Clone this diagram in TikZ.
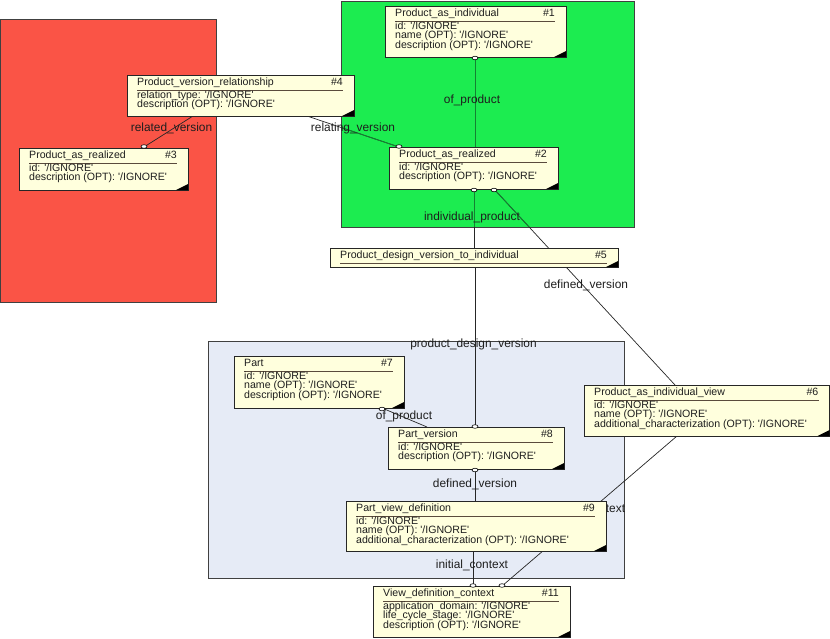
\documentclass[tikz,border=0pt]{standalone}
\usepackage{fontspec}
\setmainfont{Liberation Sans}
\usetikzlibrary{calc}
\definecolor{redreg}{RGB}{250,84,70}
\definecolor{greenreg}{RGB}{28,236,80}
\definecolor{bluereg}{RGB}{230,235,246}
\definecolor{boxfill}{RGB}{255,255,221}
\definecolor{rulecol}{RGB}{90,75,60}
\definecolor{txt}{RGB}{30,30,30}
\definecolor{dkgreen}{RGB}{20,130,50}
\newcommand\boxfont{\fontsize{10.6}{9.2}\selectfont}
\newcommand\lblfont{\fontsize{11.9}{12}\selectfont}
\newcommand\ig{\textquotesingle/IGNORE\textquotesingle}
\tikzset{
  region/.style={draw=black!75, line width=0.9pt},
  ebox/.style={rectangle, draw=black!85, fill=boxfill, line width=0.9pt, inner sep=0pt, outer sep=0pt},
  etext/.style={font=\boxfont, text=txt, inner sep=0pt},
  conn/.style={draw=black!85, line width=0.7pt},
  lbl/.style={font=\lblfont, text=txt, inner sep=0pt, anchor=base},
  anch/.style={minimum width=#1, inner sep=0pt, outer sep=0pt},
}
\newcommand\ent[8]{%
  \node[ebox, minimum width={#4-#2}, minimum height={#5-#3}] (#1) at ({(#2+#4)/2},{(#3+#5)/2}) {};
  \fill[black] (#1.south east) -- ++(-12,0) -- ++(12,-6) -- cycle;
  \node[etext, anchor=base west] (#1t) at ($(#1.north west)+(10,10.5)$) {#6};
  \node[etext, anchor=base east] (#1n) at ($(#1.north east)+(-11,10.5)$) {\##7};
  \draw[rulecol, line width=0.9pt] ($(#1.north west)+(10,15)$) -- ($(#1.north east)+(-11,15)$);
  \foreach \attr [count=\k] in {#8} {
    \node[etext, anchor=base west] (#1a\k) at ($(#1.north west)+(10,{14.5+9.2*\k})$) {\attr};
  }%
}
\newcommand\port[1]{\draw[fill=white, line width=0.6pt] (#1) ellipse [x radius=3pt, y radius=1.8pt];}
\newcommand\conns{%
\draw[conn] ($(b1.south west)+(90,0)$) -- ($(b2.north west)+(86,0)$);
\draw[conn] ($(b4.south west)+(180,0)$) -- ($(b2.north west)+(10,0)$);
\draw[conn] ($(b4.south west)+(66,0)$) -- ($(b3.north west)+(125,-1)$);
\draw[conn] ($(b2.south west)+(85,0)$) -- ($(b5.north west)+(144,0)$);
\draw[conn] ($(b2.south west)+(105,0)$) -- ($(b6.north west)+(91,0)$);
\draw[conn] ($(b5.south west)+(145,0)$) -- ($(b8.north west)+(87,0)$);
\draw[conn] ($(b7.south west)+(148,0)$) -- ($(b8.north west)+(39,0)$);
\draw[conn] ($(b8.south west)+(87,0)$) -- ($(b9.north west)+(129,0)$);
\draw[conn] ($(b9.south west)+(127,0)$) -- ($(b11.north west)+(100,0)$);
\draw[conn] ($(b6.south west)+(93,0)$) -- ($(b11.north west)+(129,0)$);
}
\begin{document}
\begin{tikzpicture}[x=1pt,y=-1pt]
\useasboundingbox (0,0) rectangle (830,638);
% regions
\draw[region, fill=redreg] (0.5,19) rectangle (216.5,302);
\draw[region, fill=greenreg] (341,1) rectangle (634,227);
\draw[region, fill=bluereg] (208,341) rectangle (624.5,578);
% named anchors of the entity boxes
\path
  node[anch=181, minimum height=51] (b1) at (475.5,31.5) {}
  node[anch=169, minimum height=42] (b2) at (473.5,168) {}
  node[anch=169, minimum height=42] (b3) at (103.5,169) {}
  node[anch=227, minimum height=41] (b4) at (240.5,95.5) {}
  node[anch=288, minimum height=19] (b5) at (474,257.5) {}
  node[anch=245.5, minimum height=51] (b6) at (706.75,410.5) {}
  node[anch=170, minimum height=52] (b7) at (319,382) {}
  node[anch=176, minimum height=42] (b8) at (476,448) {}
  node[anch=260, minimum height=50] (b9) at (476,526) {}
  node[anch=197, minimum height=51] (b11) at (471.5,611.5) {};
% connectors
\conns
\begin{scope}
  \clip (341.5,1.5) rectangle (633.5,226.5);
  \tikzset{conn/.style={draw=dkgreen, line width=0.8pt}}
  \conns
\end{scope}
% labels
\node[lbl] (l1) at (472,103) {of\_product};
\node[lbl] (l2) at (353,131) {relating\_version};
\node[lbl] (l3) at (171.5,131) {related\_version};
\node[lbl] (l4) at (472,220) {individual\_product};
\node[lbl] (l5) at (586,288) {defined\_version};
\node[lbl] (l6) at (473.5,347) {product\_design\_version};
\node[lbl] (l7) at (404,419) {of\_product};
\node[lbl] (l8) at (475,487) {defined\_version};
\node[lbl] (l9) at (472,568) {initial\_context};
\node[lbl] (l10) at (615.5,512) {text};
% entity boxes
\ent{e1}{385}{6}{566}{57}{Product\_as\_individual}{1}{id: \ig, name (OPT): \ig, description (OPT): \ig}
\ent{e2}{389}{147}{558}{189}{Product\_as\_realized}{2}{id: \ig, description (OPT): \ig}
\ent{e3}{19}{148}{188}{190}{Product\_as\_realized}{3}{id: \ig, description (OPT): \ig}
\ent{e4}{127}{75}{354}{116}{Product\_version\_relationship}{4}{relation\_type: \ig, description (OPT): \ig}
\ent{e5}{330}{248}{618}{267}{Product\_design\_version\_to\_individual}{5}{}
\ent{e6}{584}{385}{829.5}{436}{Product\_as\_individual\_view}{6}{id: \ig, name (OPT): \ig, additional\_characterization (OPT): \ig}
\ent{e7}{234}{356}{404}{408}{Part}{7}{id: \ig, name (OPT): \ig, description (OPT): \ig}
\ent{e8}{388}{427}{564}{469}{Part\_version}{8}{id: \ig, description (OPT): \ig}
\ent{e9}{346}{501}{606}{551}{Part\_view\_definition}{9}{id: \ig, name (OPT): \ig, additional\_characterization (OPT): \ig}
\ent{e11}{373}{586}{570}{637}{View\_definition\_context}{11}{application\_domain: \ig, life\_cycle\_stage: \ig, description (OPT): \ig}
% ports
\port{$(b1.south west)+(90,1)$}
\port{$(b2.north west)+(10,-0.5)$}
\port{$(b3.north west)+(125,-1.5)$}
\port{$(b2.south west)+(85,1)$}
\port{$(b2.south west)+(105,1)$}
\port{$(b8.north west)+(87,-0.5)$}
\port{$(b7.south west)+(148,1)$}
\port{$(b8.south west)+(87,1)$}
\port{$(b11.north west)+(100,-0.5)$}
\port{$(b11.north west)+(129,-0.5)$}
\end{tikzpicture}
\end{document}
